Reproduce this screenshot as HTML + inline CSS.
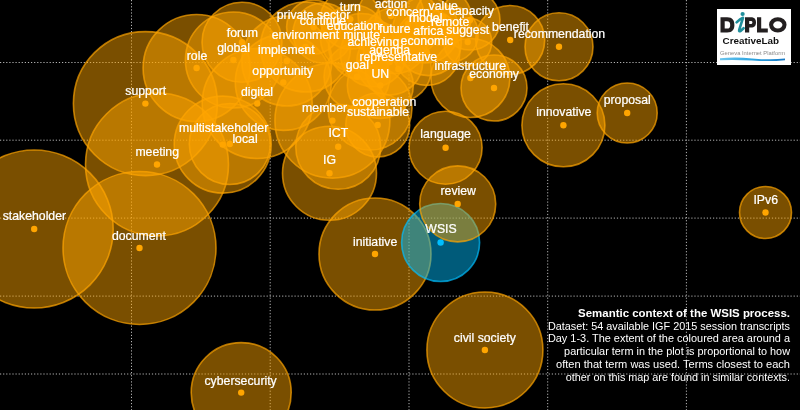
<!DOCTYPE html>
<html><head><meta charset="utf-8"><style>
html,body{margin:0;padding:0;background:#000;width:800px;height:410px;overflow:hidden}
#wrap{position:relative;width:800px;height:410px}
svg{will-change:transform}
svg text.l{font-family:"Liberation Sans",sans-serif;font-size:13.2px;fill:#fff;stroke:#fff;stroke-width:0.25px}
#logo{position:absolute;left:0;top:0}
#cap{position:absolute;left:0;top:0}
#cap text{font-family:"Liberation Sans",sans-serif;font-size:11px;fill:#fff}
</style></head><body><div id="wrap">
<svg width="800" height="410" viewBox="0 0 800 410" style="position:absolute;left:0;top:0">
<rect width="800" height="410" fill="#000"/>
<line x1="131.5" y1="0" x2="131.5" y2="410" stroke="#b4b4b4" stroke-width="1" stroke-dasharray="1.2 1.9"/>
<line x1="270.2" y1="0" x2="270.2" y2="410" stroke="#b4b4b4" stroke-width="1" stroke-dasharray="1.2 1.9"/>
<line x1="409" y1="0" x2="409" y2="410" stroke="#b4b4b4" stroke-width="1" stroke-dasharray="1.2 1.9"/>
<line x1="547.7" y1="0" x2="547.7" y2="410" stroke="#b4b4b4" stroke-width="1" stroke-dasharray="1.2 1.9"/>
<line x1="686.4" y1="0" x2="686.4" y2="410" stroke="#b4b4b4" stroke-width="1" stroke-dasharray="1.2 1.9"/>
<line x1="0" y1="62.5" x2="800" y2="62.5" stroke="#b4b4b4" stroke-width="1" stroke-dasharray="1.2 1.9"/>
<line x1="0" y1="140.2" x2="800" y2="140.2" stroke="#b4b4b4" stroke-width="1" stroke-dasharray="1.2 1.9"/>
<line x1="0" y1="218.1" x2="800" y2="218.1" stroke="#b4b4b4" stroke-width="1" stroke-dasharray="1.2 1.9"/>
<line x1="0" y1="296.1" x2="800" y2="296.1" stroke="#b4b4b4" stroke-width="1" stroke-dasharray="1.2 1.9"/>
<line x1="0" y1="374" x2="800" y2="374" stroke="#b4b4b4" stroke-width="1" stroke-dasharray="1.2 1.9"/>
<circle cx="34.2" cy="229" r="79" fill="rgba(255,165,0,0.48)" stroke="rgba(255,165,0,0.7)" stroke-width="1.6"/>
<circle cx="34.2" cy="229" r="3.2" fill="rgb(255,165,0)"/>
<circle cx="139.5" cy="248" r="76.5" fill="rgba(255,165,0,0.48)" stroke="rgba(255,165,0,0.7)" stroke-width="1.6"/>
<circle cx="139.5" cy="248" r="3.2" fill="rgb(255,165,0)"/>
<circle cx="145.4" cy="103.6" r="72" fill="rgba(255,165,0,0.48)" stroke="rgba(255,165,0,0.7)" stroke-width="1.6"/>
<circle cx="145.4" cy="103.6" r="3.2" fill="rgb(255,165,0)"/>
<circle cx="157" cy="164.5" r="71.5" fill="rgba(255,165,0,0.48)" stroke="rgba(255,165,0,0.7)" stroke-width="1.6"/>
<circle cx="157" cy="164.5" r="3.2" fill="rgb(255,165,0)"/>
<circle cx="484.9" cy="350" r="58" fill="rgba(255,165,0,0.48)" stroke="rgba(255,165,0,0.7)" stroke-width="1.6"/>
<circle cx="484.9" cy="350" r="3.2" fill="rgb(255,165,0)"/>
<circle cx="332.4" cy="120.6" r="57.5" fill="rgba(255,165,0,0.48)" stroke="rgba(255,165,0,0.7)" stroke-width="1.6"/>
<circle cx="332.4" cy="120.6" r="3.2" fill="rgb(255,165,0)"/>
<circle cx="375" cy="254" r="56" fill="rgba(255,165,0,0.48)" stroke="rgba(255,165,0,0.7)" stroke-width="1.6"/>
<circle cx="375" cy="254" r="3.2" fill="rgb(255,165,0)"/>
<circle cx="257.2" cy="103.5" r="55" fill="rgba(255,165,0,0.48)" stroke="rgba(255,165,0,0.7)" stroke-width="1.6"/>
<circle cx="257.2" cy="103.5" r="3.2" fill="rgb(255,165,0)"/>
<circle cx="196.6" cy="68" r="53.5" fill="rgba(255,165,0,0.48)" stroke="rgba(255,165,0,0.7)" stroke-width="1.6"/>
<circle cx="196.6" cy="68" r="3.2" fill="rgb(255,165,0)"/>
<circle cx="241.2" cy="392.6" r="50" fill="rgba(255,165,0,0.48)" stroke="rgba(255,165,0,0.7)" stroke-width="1.6"/>
<circle cx="241.2" cy="392.6" r="3.2" fill="rgb(255,165,0)"/>
<circle cx="222.7" cy="144.6" r="48.5" fill="rgba(255,165,0,0.48)" stroke="rgba(255,165,0,0.7)" stroke-width="1.6"/>
<circle cx="222.7" cy="144.6" r="3.2" fill="rgb(255,165,0)"/>
<circle cx="233.4" cy="60" r="48" fill="rgba(255,165,0,0.48)" stroke="rgba(255,165,0,0.7)" stroke-width="1.6"/>
<circle cx="233.4" cy="60" r="3.2" fill="rgb(255,165,0)"/>
<circle cx="283.3" cy="82.4" r="48" fill="rgba(255,165,0,0.48)" stroke="rgba(255,165,0,0.7)" stroke-width="1.6"/>
<circle cx="283.3" cy="82.4" r="3.2" fill="rgb(255,165,0)"/>
<circle cx="329.5" cy="173.3" r="47" fill="rgba(255,165,0,0.48)" stroke="rgba(255,165,0,0.7)" stroke-width="1.6"/>
<circle cx="329.5" cy="173.3" r="3.2" fill="rgb(255,165,0)"/>
<circle cx="305.5" cy="47" r="45" fill="rgba(255,165,0,0.48)" stroke="rgba(255,165,0,0.7)" stroke-width="1.6"/>
<circle cx="305.5" cy="47" r="3.2" fill="rgb(255,165,0)"/>
<circle cx="286.8" cy="61" r="45" fill="rgba(255,165,0,0.48)" stroke="rgba(255,165,0,0.7)" stroke-width="1.6"/>
<circle cx="286.8" cy="61" r="3.2" fill="rgb(255,165,0)"/>
<circle cx="338.2" cy="146.8" r="42.5" fill="rgba(255,165,0,0.48)" stroke="rgba(255,165,0,0.7)" stroke-width="1.6"/>
<circle cx="338.2" cy="146.8" r="3.2" fill="rgb(255,165,0)"/>
<circle cx="370" cy="108" r="42" fill="rgba(255,165,0,0.48)" stroke="rgba(255,165,0,0.7)" stroke-width="1.6"/>
<circle cx="370" cy="108" r="3.2" fill="rgb(255,165,0)"/>
<circle cx="563.4" cy="125.3" r="41.5" fill="rgba(255,165,0,0.48)" stroke="rgba(255,165,0,0.7)" stroke-width="1.6"/>
<circle cx="563.4" cy="125.3" r="3.2" fill="rgb(255,165,0)"/>
<circle cx="229.8" cy="144" r="40.5" fill="rgba(255,165,0,0.48)" stroke="rgba(255,165,0,0.7)" stroke-width="1.6"/>
<circle cx="229.8" cy="144" r="3.2" fill="rgb(255,165,0)"/>
<circle cx="242" cy="42.3" r="40" fill="rgba(255,165,0,0.48)" stroke="rgba(255,165,0,0.7)" stroke-width="1.6"/>
<circle cx="242" cy="42.3" r="3.2" fill="rgb(255,165,0)"/>
<circle cx="470.4" cy="78" r="39.5" fill="rgba(255,165,0,0.48)" stroke="rgba(255,165,0,0.7)" stroke-width="1.6"/>
<circle cx="470.4" cy="78" r="3.2" fill="rgb(255,165,0)"/>
<circle cx="440.6" cy="242.5" r="39" fill="rgba(0,191,255,0.48)" stroke="rgba(0,191,255,0.7)" stroke-width="1.6"/>
<circle cx="440.6" cy="242.5" r="3.2" fill="rgb(0,191,255)"/>
<circle cx="457.7" cy="203.9" r="38" fill="rgba(255,165,0,0.48)" stroke="rgba(255,165,0,0.7)" stroke-width="1.6"/>
<circle cx="457.7" cy="203.9" r="3.2" fill="rgb(255,165,0)"/>
<circle cx="445.6" cy="147.7" r="36.5" fill="rgba(255,165,0,0.48)" stroke="rgba(255,165,0,0.7)" stroke-width="1.6"/>
<circle cx="445.6" cy="147.7" r="3.2" fill="rgb(255,165,0)"/>
<circle cx="510.2" cy="40" r="34.5" fill="rgba(255,165,0,0.48)" stroke="rgba(255,165,0,0.7)" stroke-width="1.6"/>
<circle cx="510.2" cy="40" r="3.2" fill="rgb(255,165,0)"/>
<circle cx="559" cy="46.8" r="34" fill="rgba(255,165,0,0.48)" stroke="rgba(255,165,0,0.7)" stroke-width="1.6"/>
<circle cx="559" cy="46.8" r="3.2" fill="rgb(255,165,0)"/>
<circle cx="353.4" cy="38" r="33" fill="rgba(255,165,0,0.48)" stroke="rgba(255,165,0,0.7)" stroke-width="1.6"/>
<circle cx="353.4" cy="38" r="3.2" fill="rgb(255,165,0)"/>
<circle cx="408" cy="23.7" r="33" fill="rgba(255,165,0,0.48)" stroke="rgba(255,165,0,0.7)" stroke-width="1.6"/>
<circle cx="408" cy="23.7" r="3.2" fill="rgb(255,165,0)"/>
<circle cx="394.8" cy="40.7" r="33" fill="rgba(255,165,0,0.48)" stroke="rgba(255,165,0,0.7)" stroke-width="1.6"/>
<circle cx="394.8" cy="40.7" r="3.2" fill="rgb(255,165,0)"/>
<circle cx="361.6" cy="46.5" r="33" fill="rgba(255,165,0,0.48)" stroke="rgba(255,165,0,0.7)" stroke-width="1.6"/>
<circle cx="361.6" cy="46.5" r="3.2" fill="rgb(255,165,0)"/>
<circle cx="373.3" cy="53.8" r="33" fill="rgba(255,165,0,0.48)" stroke="rgba(255,165,0,0.7)" stroke-width="1.6"/>
<circle cx="373.3" cy="53.8" r="3.2" fill="rgb(255,165,0)"/>
<circle cx="426.8" cy="52.4" r="33" fill="rgba(255,165,0,0.48)" stroke="rgba(255,165,0,0.7)" stroke-width="1.6"/>
<circle cx="426.8" cy="52.4" r="3.2" fill="rgb(255,165,0)"/>
<circle cx="389.7" cy="62.1" r="33" fill="rgba(255,165,0,0.48)" stroke="rgba(255,165,0,0.7)" stroke-width="1.6"/>
<circle cx="389.7" cy="62.1" r="3.2" fill="rgb(255,165,0)"/>
<circle cx="398.3" cy="69" r="33" fill="rgba(255,165,0,0.48)" stroke="rgba(255,165,0,0.7)" stroke-width="1.6"/>
<circle cx="398.3" cy="69" r="3.2" fill="rgb(255,165,0)"/>
<circle cx="391" cy="16" r="33" fill="rgba(255,165,0,0.48)" stroke="rgba(255,165,0,0.7)" stroke-width="1.6"/>
<circle cx="391" cy="16" r="3.2" fill="rgb(255,165,0)"/>
<circle cx="425.7" cy="30" r="33" fill="rgba(255,165,0,0.48)" stroke="rgba(255,165,0,0.7)" stroke-width="1.6"/>
<circle cx="425.7" cy="30" r="3.2" fill="rgb(255,165,0)"/>
<circle cx="428.3" cy="42.6" r="33" fill="rgba(255,165,0,0.48)" stroke="rgba(255,165,0,0.7)" stroke-width="1.6"/>
<circle cx="428.3" cy="42.6" r="3.2" fill="rgb(255,165,0)"/>
<circle cx="357" cy="76.8" r="33" fill="rgba(255,165,0,0.48)" stroke="rgba(255,165,0,0.7)" stroke-width="1.6"/>
<circle cx="357" cy="76.8" r="3.2" fill="rgb(255,165,0)"/>
<circle cx="380.3" cy="85.5" r="33" fill="rgba(255,165,0,0.48)" stroke="rgba(255,165,0,0.7)" stroke-width="1.6"/>
<circle cx="380.3" cy="85.5" r="3.2" fill="rgb(255,165,0)"/>
<circle cx="494" cy="88" r="33" fill="rgba(255,165,0,0.48)" stroke="rgba(255,165,0,0.7)" stroke-width="1.6"/>
<circle cx="494" cy="88" r="3.2" fill="rgb(255,165,0)"/>
<circle cx="377.7" cy="125" r="32" fill="rgba(255,165,0,0.48)" stroke="rgba(255,165,0,0.7)" stroke-width="1.6"/>
<circle cx="377.7" cy="125" r="3.2" fill="rgb(255,165,0)"/>
<circle cx="323" cy="33" r="30" fill="rgba(255,165,0,0.48)" stroke="rgba(255,165,0,0.7)" stroke-width="1.6"/>
<circle cx="323" cy="33" r="3.2" fill="rgb(255,165,0)"/>
<circle cx="350.3" cy="19.2" r="30" fill="rgba(255,165,0,0.48)" stroke="rgba(255,165,0,0.7)" stroke-width="1.6"/>
<circle cx="350.3" cy="19.2" r="3.2" fill="rgb(255,165,0)"/>
<circle cx="627.2" cy="113" r="30" fill="rgba(255,165,0,0.48)" stroke="rgba(255,165,0,0.7)" stroke-width="1.6"/>
<circle cx="627.2" cy="113" r="3.2" fill="rgb(255,165,0)"/>
<circle cx="470" cy="20" r="30" fill="rgba(255,165,0,0.48)" stroke="rgba(255,165,0,0.7)" stroke-width="1.6"/>
<circle cx="470" cy="20" r="3.2" fill="rgb(255,165,0)"/>
<circle cx="443.2" cy="17.3" r="28" fill="rgba(255,165,0,0.48)" stroke="rgba(255,165,0,0.7)" stroke-width="1.6"/>
<circle cx="443.2" cy="17.3" r="3.2" fill="rgb(255,165,0)"/>
<circle cx="450.2" cy="34.2" r="28" fill="rgba(255,165,0,0.48)" stroke="rgba(255,165,0,0.7)" stroke-width="1.6"/>
<circle cx="450.2" cy="34.2" r="3.2" fill="rgb(255,165,0)"/>
<circle cx="313.6" cy="27" r="27" fill="rgba(255,165,0,0.48)" stroke="rgba(255,165,0,0.7)" stroke-width="1.6"/>
<circle cx="313.6" cy="27" r="3.2" fill="rgb(255,165,0)"/>
<circle cx="765.5" cy="212.5" r="26" fill="rgba(255,165,0,0.48)" stroke="rgba(255,165,0,0.7)" stroke-width="1.6"/>
<circle cx="765.5" cy="212.5" r="3.2" fill="rgb(255,165,0)"/>
<circle cx="467.7" cy="42" r="24" fill="rgba(255,165,0,0.48)" stroke="rgba(255,165,0,0.7)" stroke-width="1.6"/>
<circle cx="467.7" cy="42" r="3.2" fill="rgb(255,165,0)"/>
<text class="l" transform="translate(34.4,220.0) scale(0.93,1)" text-anchor="middle">stakeholder</text>
<text class="l" transform="translate(138.9,239.5) scale(0.93,1)" text-anchor="middle">document</text>
<text class="l" transform="translate(145.8,95.2) scale(0.93,1)" text-anchor="middle">support</text>
<text class="l" transform="translate(157.2,156.2) scale(0.93,1)" text-anchor="middle">meeting</text>
<text class="l" transform="translate(484.8,341.8) scale(0.93,1)" text-anchor="middle">civil society</text>
<text class="l" transform="translate(324.6,111.9) scale(0.93,1)" text-anchor="middle">member</text>
<text class="l" transform="translate(375.1,245.5) scale(0.93,1)" text-anchor="middle">initiative</text>
<text class="l" transform="translate(257,95.6) scale(0.93,1)" text-anchor="middle">digital</text>
<text class="l" transform="translate(197,59.7) scale(0.93,1)" text-anchor="middle">role</text>
<text class="l" transform="translate(240.6,384.6) scale(0.93,1)" text-anchor="middle">cybersecurity</text>
<text class="l" transform="translate(223.6,132.0) scale(0.93,1)" text-anchor="middle">multistakeholder</text>
<text class="l" transform="translate(233.5,52.2) scale(0.93,1)" text-anchor="middle">global</text>
<text class="l" transform="translate(282.7,74.7) scale(0.93,1)" text-anchor="middle">opportunity</text>
<text class="l" transform="translate(329.5,164.2) scale(0.93,1)" text-anchor="middle">IG</text>
<text class="l" transform="translate(305.5,39.2) scale(0.93,1)" text-anchor="middle">environment</text>
<text class="l" transform="translate(286.4,54.1) scale(0.93,1)" text-anchor="middle">implement</text>
<text class="l" transform="translate(338.3,137.0) scale(0.93,1)" text-anchor="middle">ICT</text>
<text class="l" transform="translate(384.2,106.3) scale(0.93,1)" text-anchor="middle">cooperation</text>
<text class="l" transform="translate(563.8,116.0) scale(0.93,1)" text-anchor="middle">innovative</text>
<text class="l" transform="translate(245,142.5) scale(0.93,1)" text-anchor="middle">local</text>
<text class="l" transform="translate(242.4,36.9) scale(0.93,1)" text-anchor="middle">forum</text>
<text class="l" transform="translate(470.2,69.9) scale(0.93,1)" text-anchor="middle">infrastructure</text>
<text class="l" transform="translate(441,232.9) scale(0.93,1)" text-anchor="middle">WSIS</text>
<text class="l" transform="translate(458.2,195.4) scale(0.93,1)" text-anchor="middle">review</text>
<text class="l" transform="translate(445.6,138.0) scale(0.93,1)" text-anchor="middle">language</text>
<text class="l" transform="translate(510.5,30.9) scale(0.93,1)" text-anchor="middle">benefit</text>
<text class="l" transform="translate(559.5,37.6) scale(0.93,1)" text-anchor="middle">recommendation</text>
<text class="l" transform="translate(353.4,30.3) scale(0.93,1)" text-anchor="middle">education</text>
<text class="l" transform="translate(408,15.9) scale(0.93,1)" text-anchor="middle">concern</text>
<text class="l" transform="translate(394.8,32.9) scale(0.93,1)" text-anchor="middle">future</text>
<text class="l" transform="translate(361.6,38.7) scale(0.93,1)" text-anchor="middle">minute</text>
<text class="l" transform="translate(373.3,46.0) scale(0.93,1)" text-anchor="middle">achieving</text>
<text class="l" transform="translate(426.8,44.6) scale(0.93,1)" text-anchor="middle">economic</text>
<text class="l" transform="translate(389.7,54.3) scale(0.93,1)" text-anchor="middle">agenda</text>
<text class="l" transform="translate(398.3,61.2) scale(0.93,1)" text-anchor="middle">representative</text>
<text class="l" transform="translate(391,8.1) scale(0.93,1)" text-anchor="middle">action</text>
<text class="l" transform="translate(425.7,22.2) scale(0.93,1)" text-anchor="middle">model</text>
<text class="l" transform="translate(428.3,34.8) scale(0.93,1)" text-anchor="middle">africa</text>
<text class="l" transform="translate(357.3,69.2) scale(0.93,1)" text-anchor="middle">goal</text>
<text class="l" transform="translate(380.3,77.7) scale(0.93,1)" text-anchor="middle">UN</text>
<text class="l" transform="translate(494.1,78.3) scale(0.93,1)" text-anchor="middle">economy</text>
<text class="l" transform="translate(378.1,115.7) scale(0.93,1)" text-anchor="middle">sustainable</text>
<text class="l" transform="translate(323,25.1) scale(0.93,1)" text-anchor="middle">continue</text>
<text class="l" transform="translate(350.3,11.4) scale(0.93,1)" text-anchor="middle">turn</text>
<text class="l" transform="translate(627.2,103.8) scale(0.93,1)" text-anchor="middle">proposal</text>
<text class="l" transform="translate(471.4,15.3) scale(0.93,1)" text-anchor="middle">capacity</text>
<text class="l" transform="translate(443.2,9.5) scale(0.93,1)" text-anchor="middle">value</text>
<text class="l" transform="translate(450.2,26.4) scale(0.93,1)" text-anchor="middle">remote</text>
<text class="l" transform="translate(313.6,19.2) scale(0.93,1)" text-anchor="middle">private sector</text>
<text class="l" transform="translate(765.7,204.0) scale(0.93,1)" text-anchor="middle">IPv6</text>
<text class="l" transform="translate(467.7,34.2) scale(0.93,1)" text-anchor="middle">suggest</text>
</svg>
<svg id="logo" width="800" height="410" viewBox="0 0 800 410">
<defs><linearGradient id="sw" x1="0" x2="1" y1="0" y2="0"><stop offset="0" stop-color="#6cc6ee"/><stop offset="0.5" stop-color="#2aa3e0"/><stop offset="1" stop-color="#1577c4"/></linearGradient></defs>
<rect x="717" y="9" width="74" height="56" fill="#fff"/>
<path fill="#231f20" fill-rule="evenodd" d="M720.5,17.3 H727.2 C732.6,17.3 734.4,20.6 734.4,24.9 C734.4,29.2 732.6,32.4 727.2,32.4 H720.5 Z M724.7,21.2 H726.8 C729.5,21.2 730.2,22.8 730.2,24.9 C730.2,27 729.5,28.6 726.8,28.6 H724.7 Z"/>
<path fill="#231f20" fill-rule="evenodd" d="M745,17.3 H751 C754.6,17.3 756,19.4 756,22.4 C756,25.4 754.6,27.5 751,27.5 H749.2 V32.4 H745 Z M749.2,21 H750.6 C752,21 752.4,21.6 752.4,22.4 C752.4,23.3 752,23.9 750.6,23.9 H749.2 Z"/>
<path fill="#231f20" d="M757,17.3 H761.2 V28.6 H767.8 V32.4 H757 Z"/>
<ellipse cx="777.8" cy="24.85" rx="6.7" ry="5.65" fill="none" stroke="#231f20" stroke-width="4.1"/>
<circle cx="742.6" cy="14" r="2.1" fill="#1f8f9c"/>
<path d="M736.6,22.4 Q740.2,18.6 743,17.8 L739.2,29.8 Q738.6,32 740.8,30.8 L743.6,28.2" fill="none" stroke="#1f8f9c" stroke-width="2.6" stroke-linecap="round" stroke-linejoin="round"/>
<text x="722.5" y="44" font-family="Liberation Sans" font-weight="bold" font-size="9.6" fill="#111" textLength="56.5" lengthAdjust="spacingAndGlyphs">CreativeLab</text>
<text x="720" y="55" font-family="Liberation Sans" font-size="6.2" fill="#8a8a8a" textLength="65" lengthAdjust="spacingAndGlyphs">Geneva Internet Platform</text>
<path d="M720,58.3 Q735,56.6 752,58.4 Q770,60 785,58.6 L785,60.2 Q770,61.8 752,60.6 Q735,59.4 720,60.2 Z" fill="url(#sw)"/>
</svg>
<svg id="cap" width="800" height="410" viewBox="0 0 800 410"><text x="790" y="316.7" text-anchor="end" font-weight="bold" textLength="211.9" lengthAdjust="spacingAndGlyphs">Semantic context of the WSIS process.</text><text x="790" y="329.7" text-anchor="end" textLength="242.1" lengthAdjust="spacingAndGlyphs">Dataset: 54 available IGF 2015 session transcripts</text><text x="790" y="342.4" text-anchor="end" textLength="242.1" lengthAdjust="spacingAndGlyphs">Day 1-3. The extent of the coloured area around a</text><text x="790" y="355.2" text-anchor="end" textLength="225.9" lengthAdjust="spacingAndGlyphs">particular term in the plot is proportional to how</text><text x="790" y="368.0" text-anchor="end" textLength="234.0" lengthAdjust="spacingAndGlyphs">often that term was used. Terms closest to each</text><text x="790" y="380.8" text-anchor="end" textLength="224.2" lengthAdjust="spacingAndGlyphs">other on this map are found in similar contexts.</text></svg>
</div></body></html>
